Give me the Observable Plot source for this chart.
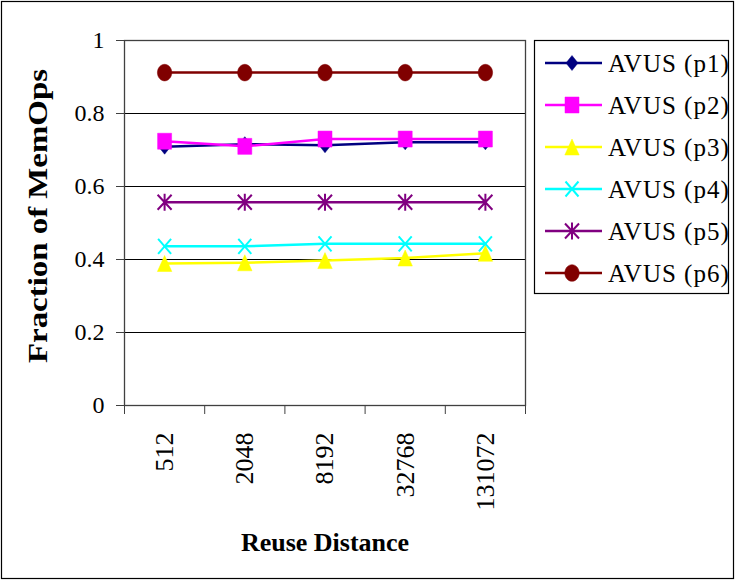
<!DOCTYPE html>
<html><head><meta charset="utf-8">
<script src="https://cdn.jsdelivr.net/npm/d3@7"></script>
<script src="https://cdn.jsdelivr.net/npm/@observablehq/plot@0.6"></script>
<style>
body{margin:0;background:#fff}
svg{display:block}
#chart svg text{font-family:"Liberation Serif","Times New Roman",serif}
</style>
</head><body><div id="chart"></div>
<script>
// ---- data ----
const categories = ["512", "2048", "8192", "32768", "131072"];
const seriesNames = ["AVUS (p1)", "AVUS (p2)", "AVUS (p3)", "AVUS (p4)", "AVUS (p5)", "AVUS (p6)"];
const p1 = [0.709, 0.716, 0.713, 0.721, 0.721];
const p2 = [0.724, 0.710, 0.730, 0.730, 0.730];
const p3 = [0.389, 0.391, 0.397, 0.404, 0.417];
const p4 = [0.436, 0.436, 0.443, 0.443, 0.443];
const p5 = [0.557, 0.557, 0.557, 0.557, 0.557];
const p6 = [0.912, 0.912, 0.912, 0.912, 0.912];
const yTicks = [0, 0.2, 0.4, 0.6, 0.8, 1];
const gridTicks = [0.2, 0.4, 0.6, 0.8];
const xTitle = "Reuse Distance";
const yTitle = "Fraction of MemOps";

// ---- styles ----
const colors = ["#000080", "#ff00ff", "#ffff00", "#00ffff", "#800080", "#800000"];
function ellipse(c, rx, ry) {
  const k = 0.5523;
  c.moveTo(rx, 0);
  c.bezierCurveTo(rx, ry * k, rx * k, ry, 0, ry);
  c.bezierCurveTo(-rx * k, ry, -rx, ry * k, -rx, 0);
  c.bezierCurveTo(-rx, -ry * k, -rx * k, -ry, 0, -ry);
  c.bezierCurveTo(rx * k, -ry, rx, -ry * k, rx, 0);
  c.closePath();
}
const symbols = [
  {draw(c) { c.moveTo(0, -7.5); c.lineTo(6, 0); c.lineTo(0, 7.5); c.lineTo(-6, 0); c.closePath(); }},
  {draw(c) { c.rect(-7, -8, 14, 16); }},
  {draw(c) { c.moveTo(0, -8); c.lineTo(7.2, 8); c.lineTo(-7.2, 8); c.closePath(); }},
  {draw(c) { c.moveTo(-6.5, -7.5); c.lineTo(6.5, 7.5); c.moveTo(-6.5, 7.5); c.lineTo(6.5, -7.5); }},
  {draw(c) { c.moveTo(0, -8.5); c.lineTo(0, 8.5); c.moveTo(-7, -7.5); c.lineTo(7, 7.5); c.moveTo(-7, 7.5); c.lineTo(7, -7.5); }},
  {draw(c) { ellipse(c, 7.2, 8.3); }}
];
const filled = [true, true, true, false, false, true];

const allSeries = [p1, p2, p3, p4, p5, p6];
const rows = allSeries.map((vals, i) => vals.map((v, j) => ({series: seriesNames[i], xi: j, v})));
const boundaries = d3.range(categories.length + 1).map(i => i - 0.5);

const marks = [
  Plot.ruleY(gridTicks, {stroke: "#000", strokeWidth: 1}),
  Plot.frame({stroke: "#404040", strokeWidth: 1.3}),
  Plot.axisY({ticks: yTicks, tickSize: 8, tickPadding: 12, fontSize: 24, tickFormat: d => String(d), label: null, stroke: "#404040"}),
  Plot.axisX({ticks: boundaries, tickSize: 9, tickFormat: () => "", label: null, stroke: "#404040"}),
  Plot.axisX({ticks: d3.range(categories.length), tickSize: 0, tickPadding: 27, tickRotate: -90, fontSize: 26, tickFormat: i => categories[i], label: null, style: "letter-spacing:2px"}),
  Plot.text([xTitle], {frameAnchor: "bottom", lineAnchor: "middle", dy: 137, fontSize: 26, fontWeight: "bold", fill: "#000"}),
  Plot.text([yTitle], {frameAnchor: "left", textAnchor: "middle", lineAnchor: "middle", rotate: -90, dx: -86, dy: -7, fontSize: 27, fontWeight: "bold", fill: "#000"})
];
rows.forEach((data, i) => {
  marks.push(Plot.line(data, {x: "xi", y: "v", stroke: colors[i], strokeWidth: 2.5}));
});
rows.forEach((data, i) => {
  marks.push(Plot.dot(data, {x: "xi", y: "v", r: 7, symbol: symbols[i],
    fill: filled[i] ? colors[i] : "none", stroke: colors[i], strokeWidth: filled[i] ? 0.5 : 2}));
});

const chart = Plot.plot({
  width: 736, height: 581,
  marginLeft: 124, marginRight: 211, marginTop: 40, marginBottom: 176,
  style: "font-family:'Liberation Serif',serif;color:#000;background:#fff",
  x: {type: "linear", domain: [-0.5, categories.length - 0.5]},
  y: {domain: [0, 1]},
  marks
});
document.getElementById("chart").appendChild(chart);

const svg = d3.select(chart);
// stretch the y title to the reference's length
svg.selectAll("text").filter(function() { return this.textContent === yTitle; })
  .attr("textLength", 294).attr("lengthAdjust", "spacingAndGlyphs");

// ---- legend & outer border ----
svg.append("rect").attr("x", 1.5).attr("y", 1.5).attr("width", 732).attr("height", 577)
  .attr("fill", "none").attr("stroke", "#000").attr("stroke-width", 1.2);
const lg = svg.append("g").attr("text-anchor", "start");
lg.append("rect").attr("x", 534.5).attr("y", 40.5).attr("width", 194).attr("height", 253)
  .attr("fill", "#fff").attr("stroke", "#000").attr("stroke-width", 1.2);
seriesNames.forEach((name, i) => {
  const y = 63 + i * 42;
  const g = lg.append("g").attr("transform", `translate(0,${y})`);
  g.append("line").attr("x1", 545).attr("x2", 602).attr("y1", 0).attr("y2", 0)
    .attr("stroke", colors[i]).attr("stroke-width", 2.5);
  const p = d3.path(); symbols[i].draw(p);
  g.append("path").attr("d", p.toString()).attr("transform", "translate(572,0)")
    .attr("fill", filled[i] ? colors[i] : "none").attr("stroke", colors[i]).attr("stroke-width", filled[i] ? 0.5 : 2);
  g.append("text").attr("x", 608).attr("y", 0).attr("dy", "0.35em").attr("font-size", 25)
    .attr("text-anchor", "start").attr("letter-spacing", "1px")
    .attr("fill", "#000").text(name);
});
</script>
</body></html>
